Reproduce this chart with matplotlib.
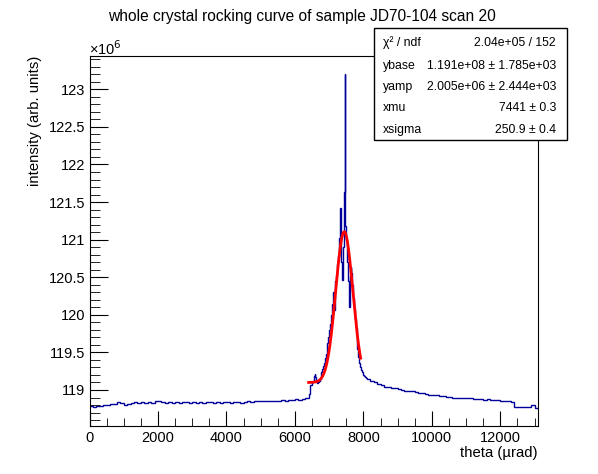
import numpy as np
import matplotlib
matplotlib.use("Agg")
import matplotlib.pyplot as plt
from matplotlib.ticker import MultipleLocator, FuncFormatter

plt.rcParams['font.family'] = ['Liberation Sans', 'DejaVu Sans']

# intensity in units of 1e6
# left baseline, 100 urad bins from 0 to 6400
left_vals = [118.79, 118.78, 118.79, 118.79, 118.80, 118.80, 118.81, 118.82, 118.84, 118.83,
             118.80, 118.82, 118.83, 118.84, 118.83, 118.84, 118.83, 118.84, 118.83, 118.85,
             118.86, 118.84, 118.83, 118.84, 118.83, 118.84, 118.83, 118.84, 118.84, 118.83,
             118.84, 118.83, 118.84, 118.83, 118.84, 118.84, 118.83, 118.84, 118.83, 118.84,
             118.84, 118.83, 118.84, 118.84, 118.83, 118.84, 118.85, 118.84, 118.85, 118.86,
             118.85, 118.85, 118.86, 118.85, 118.86, 118.86, 118.87, 118.86, 118.87, 118.87,
             118.88, 118.87, 118.88, 118.89]
# peak region, 25 urad bins from 6400 to 8100
peak_vals = [118.89, 118.95, 119.06, 119.07, 119.10, 119.12, 119.18, 119.21, 119.17, 119.11,
             119.09, 119.10, 119.12, 119.14, 119.18, 119.24, 119.28, 119.32, 119.36, 119.42,
             119.48, 119.55, 119.62, 119.70, 119.80, 119.88, 120.00, 120.15, 120.28, 120.30,
             120.06, 120.45, 120.52, 120.68, 120.78, 120.92, 121.02, 121.42, 120.70, 120.46,
             120.90, 121.64, 123.20, 121.18, 121.00, 120.70, 120.45, 120.10, 120.52, 120.64,
             120.55, 120.40, 120.22, 120.08, 119.94, 119.82, 119.68, 119.54, 119.44, 119.36,
             119.30, 119.27, 119.24, 119.22, 119.20, 119.18, 119.17, 119.16]
# right tail, 100 urad bins from 8100 to 13100
right_vals = [119.15, 119.12, 119.10, 119.08, 119.06, 119.04, 119.04, 119.03, 119.02, 119.01,
              119.00, 118.99, 118.99, 118.98, 118.97, 118.96, 118.96, 118.95, 118.94, 118.93,
              118.93, 118.92, 118.92, 118.91, 118.91, 118.90, 118.90, 118.90, 118.89, 118.89,
              118.89, 118.88, 118.88, 118.88, 118.87, 118.88, 118.87, 118.87, 118.87, 118.86,
              118.86, 118.85, 118.84, 118.78, 118.78, 118.77, 118.78, 118.78, 118.80, 118.76]

left_edges = np.arange(0, 6400 + 1, 100)
peak_edges = np.arange(6400, 8100 + 1, 25)
right_edges = np.arange(8100, 13100 + 1, 100)
edges = np.concatenate([left_edges, peak_edges[1:], right_edges[1:]])
values = np.array(left_vals + peak_vals + right_vals)

# gaussian fit result (stats box)
ybase = 1.191e8
yamp = 2.005e6
xmu = 7441
xsigma = 250.9
fit_range = (6400, 7920)

stat_names = ["\u03c7\u00b2 / ndf", "ybase", "yamp", "xmu", "xsigma"]
stat_values = ["2.04e+05 / 152", "1.191e+08 \u00b1 1.785e+03", "2.005e+06 \u00b1 2.444e+03",
               "7441 \u00b1 0.3", "250.9 \u00b1 0.4"]

W, H = 598, 474
fig = plt.figure(figsize=(W / 100, H / 100), dpi=100)
ax = fig.add_axes([89.5 / W, 1 - 425.7 / H, (538 - 89.5) / W, (425.7 - 55.7) / H])

ax.stairs(values, edges, baseline=None, color='#000099', lw=1.0)

xf = np.linspace(fit_range[0], fit_range[1], 400)
yf = (ybase + yamp * np.exp(-0.5 * ((xf - xmu) / xsigma) ** 2)) / 1e6
ax.plot(xf, yf, color='red', lw=2.0)

ax.set_xlim(0, 13100)
ax.set_ylim(118.525, 123.447)

ax.xaxis.set_major_locator(MultipleLocator(2000))
ax.xaxis.set_minor_locator(MultipleLocator(500))
ax.yaxis.set_major_locator(MultipleLocator(0.5))
ax.yaxis.set_minor_locator(MultipleLocator(0.1))
ax.yaxis.set_major_formatter(FuncFormatter(lambda v, p: "%g" % round(v, 1)))
ax.tick_params(which='both', direction='in', top=False, right=False, labelsize=10.5, colors='black')
ax.tick_params(axis='y', which='major', length=13, pad=3)
ax.tick_params(axis='y', which='minor', length=7)
ax.tick_params(axis='x', which='major', length=11, pad=4)
ax.tick_params(axis='x', which='minor', length=5.5)
for s in ax.spines.values():
    s.set_linewidth(0.8)

fig.text(538 / W, 1 - 453 / H, "theta (\u00b5rad)", ha='right', va='center', fontsize=10.7)
fig.text(35 / W, 1 - 56 / H, "intensity (arb. units)", ha='center', va='top',
         rotation=90, fontsize=10.7)
fig.text(89 / W, 1 - 49 / H, "\u00d710$^{6}$", ha='left', va='center', fontsize=10.5)
fig.text(302 / W, 1 - 17 / H, "whole crystal rocking curve of sample JD70-104 scan 20",
         ha='center', va='center', fontsize=11.2)

# stats box
bx0, bx1, by0, by1 = 374, 567, 28, 140
box = plt.Rectangle((bx0 / W, 1 - by1 / H), (bx1 - bx0) / W, (by1 - by0) / H,
                    transform=fig.transFigure, facecolor='white', edgecolor='black', lw=1.0)
fig.patches.append(box)
row_y = [43, 66, 87, 108, 130]
for name, val, yy in zip(stat_names, stat_values, row_y):
    fig.text(383 / W, 1 - yy / H, name, ha='left', va='center', fontsize=8.8)
    fig.text(556 / W, 1 - yy / H, val, ha='right', va='center', fontsize=8.8)

fig.savefig("out.png", dpi=100)
